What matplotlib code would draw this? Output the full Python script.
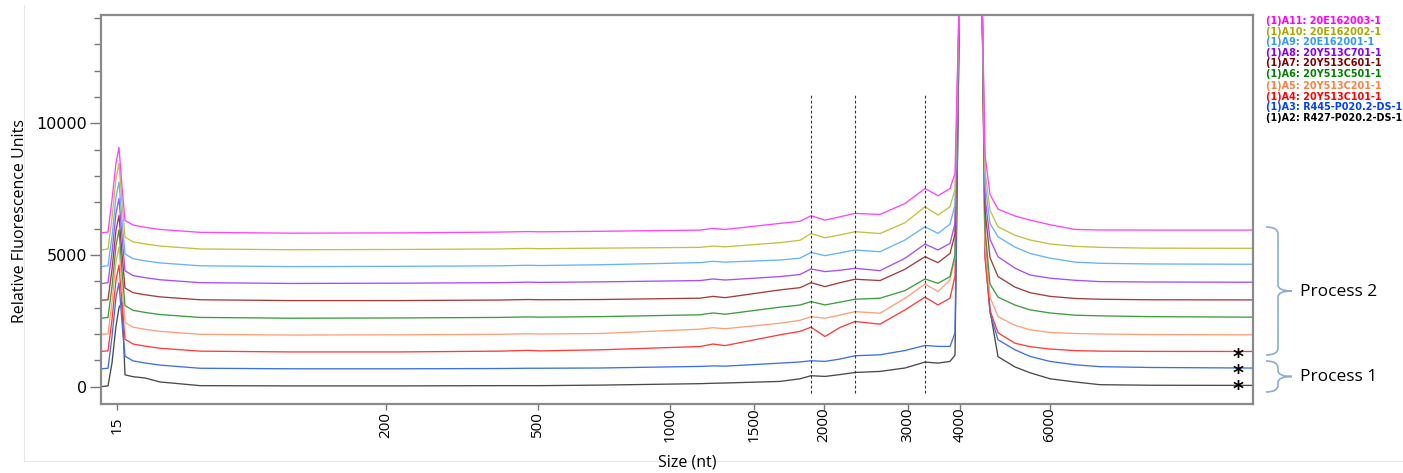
import matplotlib
matplotlib.use("Agg")
import matplotlib.pyplot as plt
from matplotlib.path import Path
from matplotlib.patches import PathPatch
from matplotlib.ticker import FixedLocator, MultipleLocator
from matplotlib.transforms import offset_copy

# ---------------- data ----------------
# migration time (s) of the sampled points of every electropherogram trace
migration_time = [20.0, 20.7, 21.1, 21.5, 21.8, 22.1, 22.4, 23.2, 24.4, 25.9,
                  29.9, 38.9, 49.9, 59.9, 62.7, 63.9, 69.9, 79.9, 81.2, 82.4,
                  87.9, 89.9, 91.0, 92.4, 93.9, 95.4, 97.9, 100.4, 102.4, 103.7,
                  104.9, 105.4, 105.9, 106.9, 108.1, 108.4, 108.9, 109.7, 111.4, 112.9,
                  114.9, 117.4, 119.9, 124.9, 135.2]

# ladder: size (nt) and the migration time where it elutes
size_ladder = ["15", "200", "500", "1000", "1500", "2000", "3000", "4000", "6000"]
ladder_time = [21.6, 48.5, 63.7, 76.9, 85.3, 92.3, 100.7, 105.9, 114.9]

# dashed reference lines (migration time)
marker_lines_time = [91.0, 95.4, 102.4]

sample_labels = ["(1)A11: 20E162003-1", "(1)A10: 20E162002-1", "(1)A9: 20E162001-1",
                 "(1)A8: 20Y513C701-1", "(1)A7: 20Y513C601-1", "(1)A6: 20Y513C501-1",
                 "(1)A5: 20Y513C201-1", "(1)A4: 20Y513C101-1", "(1)A3: R445-P020.2-DS-1",
                 "(1)A2: R427-P020.2-DS-1"]

a11 = [5840, 5870, 7100, 8500, 9090, 7600, 6310, 6140, 6050, 5970,
       5860, 5830, 5840, 5870, 5890, 5880, 5900, 5945, 6010, 5970,
       6200, 6280, 6490, 6325, 6450, 6580, 6540, 6955, 7525, 7250,
       7525, 8100, 16000, 16000, 15000, 8800, 7300, 6740, 6480, 6325,
       6150, 5970, 5950, 5947, 5947]
a10 = [5190, 5230, 6400, 7900, 8480, 7000, 5680, 5500, 5420, 5340,
       5230, 5200, 5210, 5230, 5250, 5240, 5260, 5290, 5340, 5310,
       5470, 5560, 5815, 5655, 5760, 5885, 5815, 6225, 6830, 6515,
       6830, 7500, 16000, 16000, 15000, 8200, 6700, 6070, 5750, 5570,
       5420, 5330, 5290, 5260, 5254]
a9 = [4560, 4590, 5700, 7200, 7770, 6300, 5040, 4860, 4780, 4700,
      4590, 4560, 4570, 4590, 4610, 4600, 4630, 4710, 4760, 4730,
      4810, 4880, 5100, 4975, 5080, 5190, 5125, 5570, 6070, 5820,
      6175, 6900, 16000, 16000, 15000, 7700, 6200, 5690, 5300, 5060,
      4880, 4730, 4685, 4660, 4648]
a8 = [3910, 3950, 5100, 6600, 7150, 5700, 4400, 4220, 4140, 4060,
      3950, 3920, 3930, 3950, 3970, 3960, 3980, 4030, 4090, 4050,
      4180, 4260, 4470, 4370, 4420, 4495, 4405, 4875, 5415, 5190,
      5440, 6200, 16000, 16000, 15000, 7200, 5600, 4935, 4500, 4240,
      4120, 4040, 3990, 3975, 3966]
a7 = [3280, 3300, 4450, 5950, 6500, 5050, 3750, 3570, 3490, 3410,
      3300, 3270, 3270, 3290, 3310, 3300, 3310, 3360, 3430, 3380,
      3675, 3760, 3950, 3800, 3950, 4080, 4030, 4460, 4935, 4710,
      5060, 5800, 16000, 16000, 15000, 6700, 4900, 4180, 3780, 3570,
      3430, 3350, 3320, 3300, 3295]
a6 = [2600, 2630, 3800, 5350, 5950, 4400, 3080, 2900, 2820, 2740,
      2630, 2600, 2610, 2630, 2650, 2640, 2660, 2730, 2800, 2750,
      3020, 3100, 3230, 3105, 3210, 3320, 3360, 3650, 4090, 3925,
      4180, 5000, 16000, 16000, 15000, 6000, 3900, 3400, 3100, 2917,
      2800, 2715, 2690, 2660, 2640]
a5 = [1990, 2000, 3200, 4750, 5300, 3800, 2440, 2260, 2180, 2100,
      1990, 1960, 1970, 1990, 2010, 2000, 2020, 2185, 2240, 2200,
      2410, 2520, 2660, 2600, 2720, 2850, 2790, 3360, 3900, 3610,
      4050, 4900, 16000, 16000, 15000, 5400, 3400, 2660, 2330, 2160,
      2060, 2020, 2000, 1980, 1970]
a4 = [1340, 1360, 2550, 4050, 4620, 3150, 1800, 1620, 1540, 1460,
      1350, 1320, 1320, 1350, 1380, 1360, 1400, 1525, 1620, 1560,
      1970, 2100, 2260, 1905, 2250, 2475, 2375, 2915, 3400, 3105,
      3360, 4200, 16000, 16000, 15000, 4900, 2900, 2045, 1650, 1520,
      1430, 1370, 1350, 1340, 1337]
a3 = [680, 700, 1900, 3400, 3940, 2450, 1160, 980, 900, 820,
      700, 680, 680, 690, 700, 700, 710, 770, 790, 780,
      895, 940, 985, 960, 1050, 1175, 1210, 1375, 1565, 1530,
      1530, 2040, 16000, 16000, 15000, 5000, 2800, 1780, 1400, 1150,
      960, 833, 760, 730, 708]
a2 = [0, 30, 900, 2300, 3000, 3220, 450, 380, 330, 180,
      40, 30, 30, 40, 40, 40, 60, 115, 130, 140,
      200, 300, 417, 390, 460, 540, 580, 710, 935, 895,
      960, 1200, 16000, 16000, 15000, 5700, 2900, 1140, 750, 530,
      300, 180, 76, 55, 49]

line_colors = ["#ff44ff", "#c4c040", "#66b2ff", "#a64dff", "#a53c3c",
               "#3c9e3c", "#ff9f7a", "#ff3b3b", "#3f6fe8", "#4a4a4a"]
text_colors = ["#ff00ff", "#a8a800", "#3399ff", "#8000ff", "#800000",
               "#008000", "#ff8040", "#ff0000", "#0040ff", "#000000"]

# ---------------- figure ----------------
W, H = 1403, 473
fig = plt.figure(figsize=(W / 100, H / 100), dpi=100)
fig.patch.set_facecolor("white")

# overlay in pixel coordinates for annotations
ov = fig.add_axes([0, 0, 1, 1], zorder=0)
ov.set_xlim(0, W)
ov.set_ylim(H, 0)
ov.axis("off")
ov.patch.set_alpha(0)

# faint outer border
ov.plot([24, 24], [5, 461], color="#e6e6e6", lw=0.8)
ov.plot([24, W], [461, 461], color="#e6e6e6", lw=0.8)

ax = fig.add_axes([101 / W, 1 - 404 / H, (1253 - 101) / W, (404 - 15) / H], zorder=1)
ax.patch.set_alpha(0)

series = [a11, a10, a9, a8, a7, a6, a5, a4, a3, a2]
for vals, col in zip(series[::-1], line_colors[::-1]):
    ax.plot(migration_time, vals, color=col, lw=0.95, solid_joinstyle="round")

for xt in marker_lines_time:
    ax.plot([xt, xt], [-250, 11150], color="#333333", lw=0.8,
            linestyle=(0, (2.5, 2)))

ax.set_xlim(20.0, 135.2)
ax.set_ylim(-657, 14112)

ax.xaxis.set_major_locator(FixedLocator(ladder_time))
ax.set_xticklabels(size_ladder, rotation=90, va="center", ha="center",
                   family="Open Sans", fontsize=11)
ax.tick_params(axis="x", length=4, width=1, color="#777777", pad=11)

ax.yaxis.set_major_locator(FixedLocator([0, 5000, 10000]))
ax.yaxis.set_minor_locator(MultipleLocator(1000))
ax.set_yticklabels(["0", "5000", "10000"], family="DejaVu Sans", fontsize=11.5)
ax.tick_params(axis="y", which="major", length=8, width=1, color="#777777", pad=2)
ax.tick_params(axis="y", which="minor", length=5, width=1, color="#777777")

for sp in ax.spines.values():
    sp.set_color("#8a8a8a")
    sp.set_linewidth(1.6)

ov.text(20, 221, "Relative Fluorescence Units", family="Open Sans", fontsize=11.5,
        rotation=90, ha="center", va="center")
ov.text(687, 462, "Size (nt)", family="Open Sans", fontsize=11.5,
        ha="center", va="center")

# asterisks on the flagged traces A4, A3, A2 (one stacked text, centred on A3)
star_tr = offset_copy(ax.transData, fig=fig, x=0, y=-6, units="dots")
ax.text(133.7, a3[-1], "*\n*\n*", fontsize=15, fontweight="bold",
        ha="center", va="center", color="black", linespacing=0.76,
        transform=star_tr)

# legend (coloured sample names)
leg_y = [20.7, 31.7, 42.3, 52.7, 63.3, 74.0, 85.7, 96.7, 107.3, 118.3]
for lab, col, yy in zip(sample_labels, text_colors, leg_y):
    ov.text(1266, yy, lab, color=col, fontsize=6.9, fontweight="bold",
            family="DejaVu Sans", ha="left", va="center")

# braces
brace_col = "#8eaadb"

def brace(y0, y1, ym):
    verts = [(1266, y0), (1278, y0), (1278, y0 + 7),
             (1278, ym - 6),
             (1278, ym), (1292, ym),
             (1278, ym), (1278, ym + 6),
             (1278, y1 - 7),
             (1278, y1), (1266, y1)]
    codes = [Path.MOVETO, Path.CURVE3, Path.CURVE3,
             Path.LINETO,
             Path.CURVE3, Path.CURVE3,
             Path.CURVE3, Path.CURVE3,
             Path.LINETO,
             Path.CURVE3, Path.CURVE3]
    ov.add_patch(PathPatch(Path(verts, codes), fill=False, ec=brace_col, lw=1.2))

brace(227, 355, 291)
brace(361, 392, 376.5)
ov.text(1300, 292, "Process 2", family="Open Sans", fontsize=12.5, ha="left", va="center")
ov.text(1300, 377, "Process 1", family="Open Sans", fontsize=12.5, ha="left", va="center")

fig.savefig("out.png", dpi=100)
